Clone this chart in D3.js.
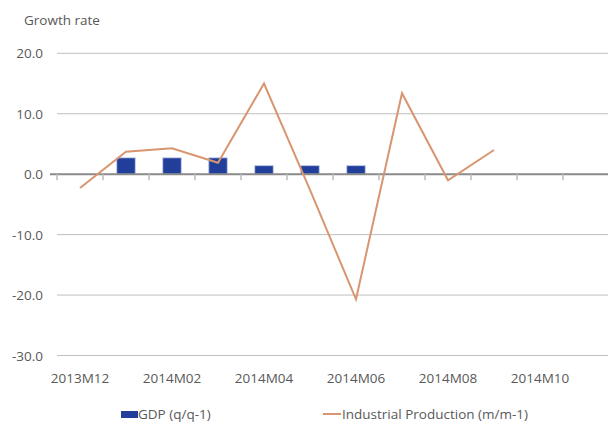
<!DOCTYPE html>
<html><head><meta charset="utf-8">
<script src="https://cdn.jsdelivr.net/npm/d3@7"></script>
<style>body{margin:0;background:#fff}svg{display:block}text{font-family:"Open Sans",sans-serif;fill:#595959}</style>
</head><body><svg id="c" width="608" height="430"></svg>
<script>
const categories = ["2013M12","2014M01","2014M02","2014M03","2014M04","2014M05","2014M06","2014M07","2014M08","2014M09","2014M10","2014M11"];
const tickLabels = ["2013M12","2014M02","2014M04","2014M06","2014M08","2014M10"];
const gdp = [null,2.7,2.7,2.7,1.4,1.4,1.4,null,null,null,null,null];
const industrial = [-2.3,3.7,4.3,1.9,15.0,-2.6,-20.7,13.4,-1.0,4.0,null,null];
const yTicks = [20,10,0,-10,-20,-30];

const svg = d3.select("#c");
const x = d3.scaleBand().domain(categories).range([57,609]).paddingInner(0.6).paddingOuter(0.3);
const xb = d3.scaleBand().domain(categories).range([57,609]);
const y = d3.scaleLinear().domain([-30,20]).range([355.5,53.3]);

// gridlines
svg.append("g").selectAll("line").data(yTicks.filter(d=>d!==0)).join("line")
  .attr("x1",57).attr("x2",608).attr("y1",d=>y(d)).attr("y2",d=>y(d))
  .attr("stroke","#bfbfbf").attr("stroke-width",1);

// y labels
svg.append("g").selectAll("text").data(yTicks).join("text")
  .attr("x",43).attr("y",d=>y(d)+5).attr("text-anchor","end")
  .attr("font-size",13.5).text(d=>d.toFixed(1));

svg.append("text").attr("x",24).attr("y",25).attr("font-size",13.5).text("Growth rate");

// bars
svg.append("g").selectAll("rect").data(categories.map((c,i)=>({c,v:gdp[i]})).filter(d=>d.v!=null)).join("rect")
  .attr("x",d=>x(d.c)).attr("width",x.bandwidth())
  .attr("y",d=>y(d.v)).attr("height",d=>y(0)-y(d.v))
  .attr("fill","#213e9a").attr("stroke","#b7c3e6").attr("stroke-width",0.8);

// zero axis
svg.append("line").attr("x1",50).attr("x2",608).attr("y1",y(0)).attr("y2",y(0))
  .attr("stroke","#8a8a8a").attr("stroke-width",2);
// tick marks at band boundaries
svg.append("g").selectAll("line").data(categories).join("line")
  .attr("x1",d=>xb(d)).attr("x2",d=>xb(d)).attr("y1",y(0)).attr("y2",y(0)+6)
  .attr("stroke","#bdbdbd").attr("stroke-width",1.5);

// line
const pts = categories.map((c,i)=>({c,v:industrial[i]})).filter(d=>d.v!=null);
svg.append("path").datum(pts)
  .attr("d",d3.line().x(d=>xb(d.c)+xb.bandwidth()/2).y(d=>y(d.v)))
  .attr("fill","none").attr("stroke","#d8956f").attr("stroke-width",2);

// x labels
svg.append("g").selectAll("text").data(tickLabels).join("text")
  .attr("x",d=>xb(d)+xb.bandwidth()/2).attr("y",383).attr("text-anchor","middle")
  .attr("font-size",13.5).text(d=>d);

// legend
svg.append("rect").attr("x",121).attr("y",411).attr("width",17).attr("height",7).attr("fill","#213e9a");
svg.append("text").attr("x",138).attr("y",419).attr("font-size",13.5).text("GDP (q/q-1)");
svg.append("line").attr("x1",323).attr("x2",341).attr("y1",414).attr("y2",414).attr("stroke","#d8956f").attr("stroke-width",2);
svg.append("text").attr("x",342).attr("y",419).attr("font-size",13.5).text("Industrial Production (m/m-1)");
</script></body></html>
